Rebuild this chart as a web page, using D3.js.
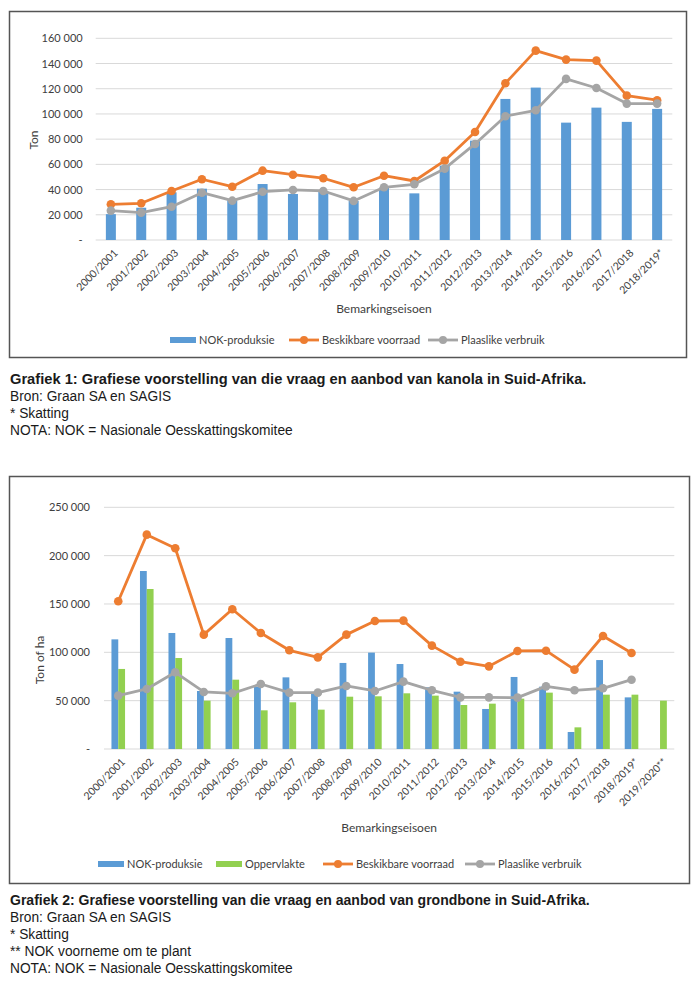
<!DOCTYPE html>
<html><head><meta charset="utf-8">
<script src="https://cdn.jsdelivr.net/npm/d3@7"></script>
<style>
body{margin:0;background:#fff;}
svg{display:block;}
</style></head>
<body>
<svg id="c" width="700" height="989"></svg>
<script>
// ---------- Data: Grafiek 1 (kanola) ----------
const seasons1 = ["2000/2001","2001/2002","2002/2003","2003/2004","2004/2005","2005/2006","2006/2007","2007/2008","2008/2009","2009/2010","2010/2011","2011/2012","2012/2013","2013/2014","2014/2015","2015/2016","2016/2017","2017/2018","2018/2019*"];
const nok1 = [20500,25600,37800,40700,31500,44400,36500,38800,31000,41500,37000,59000,78800,111900,120900,93100,105000,93700,104000];
const voorraad1 = [28300,29100,38900,48200,42300,55000,51800,49000,41800,51000,46800,62900,85700,124300,150200,143100,142300,114500,110900];
const verbruik1 = [23300,21700,26400,37500,31200,38300,39700,38900,31000,41800,44200,56600,76200,98200,102900,127800,120600,108200,108200];
const ticks1 = [0,20000,40000,60000,80000,100000,120000,140000,160000];

// ---------- Data: Grafiek 2 (grondbone) ----------
const seasons2 = ["2000/2001","2001/2002","2002/2003","2003/2004","2004/2005","2005/2006","2006/2007","2007/2008","2008/2009","2009/2010","2010/2011","2011/2012","2012/2013","2013/2014","2014/2015","2015/2016","2016/2017","2017/2018","2018/2019*","2019/2020**"];
const nok2 = [113400,184100,120000,60000,114800,64500,74100,58300,89000,99700,87900,63800,59300,41400,74500,64500,17600,92000,53400,null];
const opp2 = [82800,165500,94100,50000,71700,40000,48300,40700,54100,54500,57600,55200,45500,46900,52100,58300,22400,56200,56200,50000];
const voorraad2 = [152800,221700,207600,118300,144500,120000,102100,94800,118300,132400,132800,106900,90300,85500,101400,101700,82100,116900,99300,null];
const verbruik2 = [55200,62100,79300,59000,57600,67200,58300,58300,65200,60000,69700,60700,53400,53400,53100,64800,60700,62800,71700,null];
const ticks2 = [0,50000,100000,150000,200000,250000];

const C = {blue:"#5B9BD5", green:"#92D050", orange:"#ED7D31", gray:"#A5A5A5"};
const chartFont = "Lato, 'Open Sans', sans-serif";
const capFont = "'Liberation Sans', Arial, sans-serif";

const svg = d3.select("#c");
const fmt = v => v === 0 ? "-" : d3.format(",")(v).replace(/,/g, " ");

function drawChart(o){
  const g = svg.append("g");
  g.append("rect").attr("x", o.box[0]+0.5).attr("y", o.box[1]+0.5)
    .attr("width", o.box[2]).attr("height", o.box[3])
    .attr("fill","#fff").attr("stroke","#555").attr("stroke-width",1.5);

  const x = d3.scaleBand().domain(o.cats).range([o.left, o.right]);
  const y = d3.scaleLinear().domain([0, o.max]).range([o.bottom, o.top]);

  g.append("g").selectAll("line").data(o.ticks).join("line")
    .attr("x1", o.left).attr("x2", o.right)
    .attr("y1", d=>y(d)).attr("y2", d=>y(d))
    .attr("stroke","#D9D9D9").attr("stroke-width",1);

  const ya = g.append("g").attr("transform",`translate(${o.left},0)`)
    .call(d3.axisLeft(y).tickValues(o.ticks).tickFormat(fmt).tickSize(0).tickPadding(o.ypad));
  ya.select(".domain").remove();
  ya.selectAll("text").attr("font-family", chartFont).attr("font-size", 11).attr("fill","#404040");

  const xa = g.append("g").attr("transform",`translate(0,${o.bottom})`)
    .call(d3.axisBottom(x).tickSize(0).tickPadding(0));
  xa.select(".domain").remove();
  xa.selectAll("text").attr("font-family", chartFont).attr("font-size", 10.5).attr("fill","#404040")
    .attr("text-anchor","end")
    .attr("transform","translate(5,11) rotate(-45)")
    .attr("dy","0.35em").attr("y",0);

  const nb = o.bars.length;
  const bw = o.barW;
  o.bars.forEach((b, bi) => {
    g.append("g").selectAll("rect").data(b.values.map((v,i)=>({v, c:o.cats[i]})).filter(d=>d.v!=null)).join("rect")
      .attr("x", d => x(d.c) + x.bandwidth()/2 - nb*bw/2 + bi*bw)
      .attr("width", bw)
      .attr("y", d => y(d.v))
      .attr("height", d => o.bottom - y(d.v))
      .attr("fill", b.color);
  });

  o.lines.forEach(l => {
    const pts = l.values.map((v,i)=>({v, c:o.cats[i]})).filter(d=>d.v!=null);
    const line = d3.line().x(d=>x(d.c)+x.bandwidth()/2).y(d=>y(d.v));
    g.append("path").datum(pts).attr("d", line).attr("fill","none")
      .attr("stroke", l.color).attr("stroke-width", 2.8).attr("stroke-linejoin","round");
    g.append("g").selectAll("circle").data(pts).join("circle")
      .attr("cx", d=>x(d.c)+x.bandwidth()/2).attr("cy", d=>y(d.v)).attr("r", 4.3)
      .attr("fill", l.color);
  });

  g.append("text").attr("transform",`translate(${o.ytitle[0]},${o.ytitle[1]}) rotate(-90)`)
    .attr("text-anchor","middle").attr("dy","0.35em")
    .attr("font-family", chartFont).attr("font-size", 12).attr("fill","#404040").text(o.ylabel);
  g.append("text").attr("x", (o.left+o.right)/2).attr("y", o.xtitleY)
    .attr("text-anchor","middle").attr("dy","0.35em")
    .attr("font-family", chartFont).attr("font-size", 12).attr("fill","#404040").text("Bemarkingseisoen");

  const lg = g.append("g");
  o.legend.forEach(it => {
    const gi = lg.append("g").attr("transform",`translate(${it.x},${o.legendY})`);
    if (it.type === "bar") {
      gi.append("rect").attr("x",0).attr("y",-3).attr("width",26).attr("height",6).attr("fill",it.color);
    } else {
      gi.append("line").attr("x1",0).attr("x2",30).attr("y1",0).attr("y2",0).attr("stroke",it.color).attr("stroke-width",2.8);
      gi.append("circle").attr("cx",15).attr("cy",0).attr("r",4).attr("fill",it.color);
    }
    gi.append("text").attr("x", it.type==="bar"?29:33).attr("y",0).attr("dy","0.35em")
      .attr("font-family", chartFont).attr("font-size", 11).attr("fill","#404040").text(it.label);
  });
}

drawChart({
  box:[9,11,677,346],
  cats: seasons1, max:160000, ticks: ticks1,
  left:95.7, right:672.3, top:38.3, bottom:240, ypad:13,
  barW:10,
  bars:[{values:nok1, color:C.blue}],
  lines:[{values:voorraad1, color:C.orange},{values:verbruik1, color:C.gray}],
  ylabel:"Ton", ytitle:[34,140], xtitleY:309,
  legendY:340,
  legend:[
    {type:"bar", x:170, color:C.blue, label:"NOK-produksie"},
    {type:"line", x:289, color:C.orange, label:"Beskikbare voorraad"},
    {type:"line", x:428, color:C.gray, label:"Plaaslike verbruik"}
  ]
});

drawChart({
  box:[9,476,680,407],
  cats: seasons2, max:250000, ticks: ticks2,
  left:104, right:674.3, top:507.3, bottom:749, ypad:14,
  barW:6.8,
  bars:[{values:nok2, color:C.blue},{values:opp2, color:C.green}],
  lines:[{values:voorraad2, color:C.orange},{values:verbruik2, color:C.gray}],
  ylabel:"Ton of ha", ytitle:[40,660], xtitleY:828,
  legendY:864,
  legend:[
    {type:"bar", x:98, color:C.blue, label:"NOK-produksie"},
    {type:"bar", x:216, color:C.green, label:"Oppervlakte"},
    {type:"line", x:323, color:C.orange, label:"Beskikbare voorraad"},
    {type:"line", x:465, color:C.gray, label:"Plaaslike verbruik"}
  ]
});

// captions (condensed look by horizontal scaling)
const cap1 = ["Grafiek 1: Grafiese voorstelling van die vraag en aanbod van kanola in Suid-Afrika.","Bron: Graan SA en SAGIS","* Skatting","NOTA: NOK = Nasionale Oesskattingskomitee"];
const cap2 = ["Grafiek 2: Grafiese voorstelling van die vraag en aanbod van grondbone in Suid-Afrika.","Bron: Graan SA en SAGIS","* Skatting","** NOK voorneme om te plant","NOTA: NOK = Nasionale Oesskattingskomitee"];
function caption(lines, y0){
  const g = svg.append("g");
  const t = g.selectAll("text").data(lines).join("text")
    .attr("x",0).attr("y",0).attr("dy","0.35em")
    .attr("font-family", capFont).attr("font-size",15)
    .attr("font-weight",(d,i)=>i===0?"bold":"normal").attr("fill","#1a1a1a")
    .text(d=>d);
  const boldW = t.nodes()[0].getComputedTextLength();
  const lastW = t.nodes()[lines.length-1].getComputedTextLength();
  const sb = (y0 < 500 ? 577 : 580) / boldW;
  const sr = 283 / lastW;
  t.attr("transform",(d,i)=>`translate(10,${y0+i*17}) scale(${i===0?sb:sr},1)`);
}
caption(cap1, 379);
caption(cap2, 900);
</script>
</body></html>
